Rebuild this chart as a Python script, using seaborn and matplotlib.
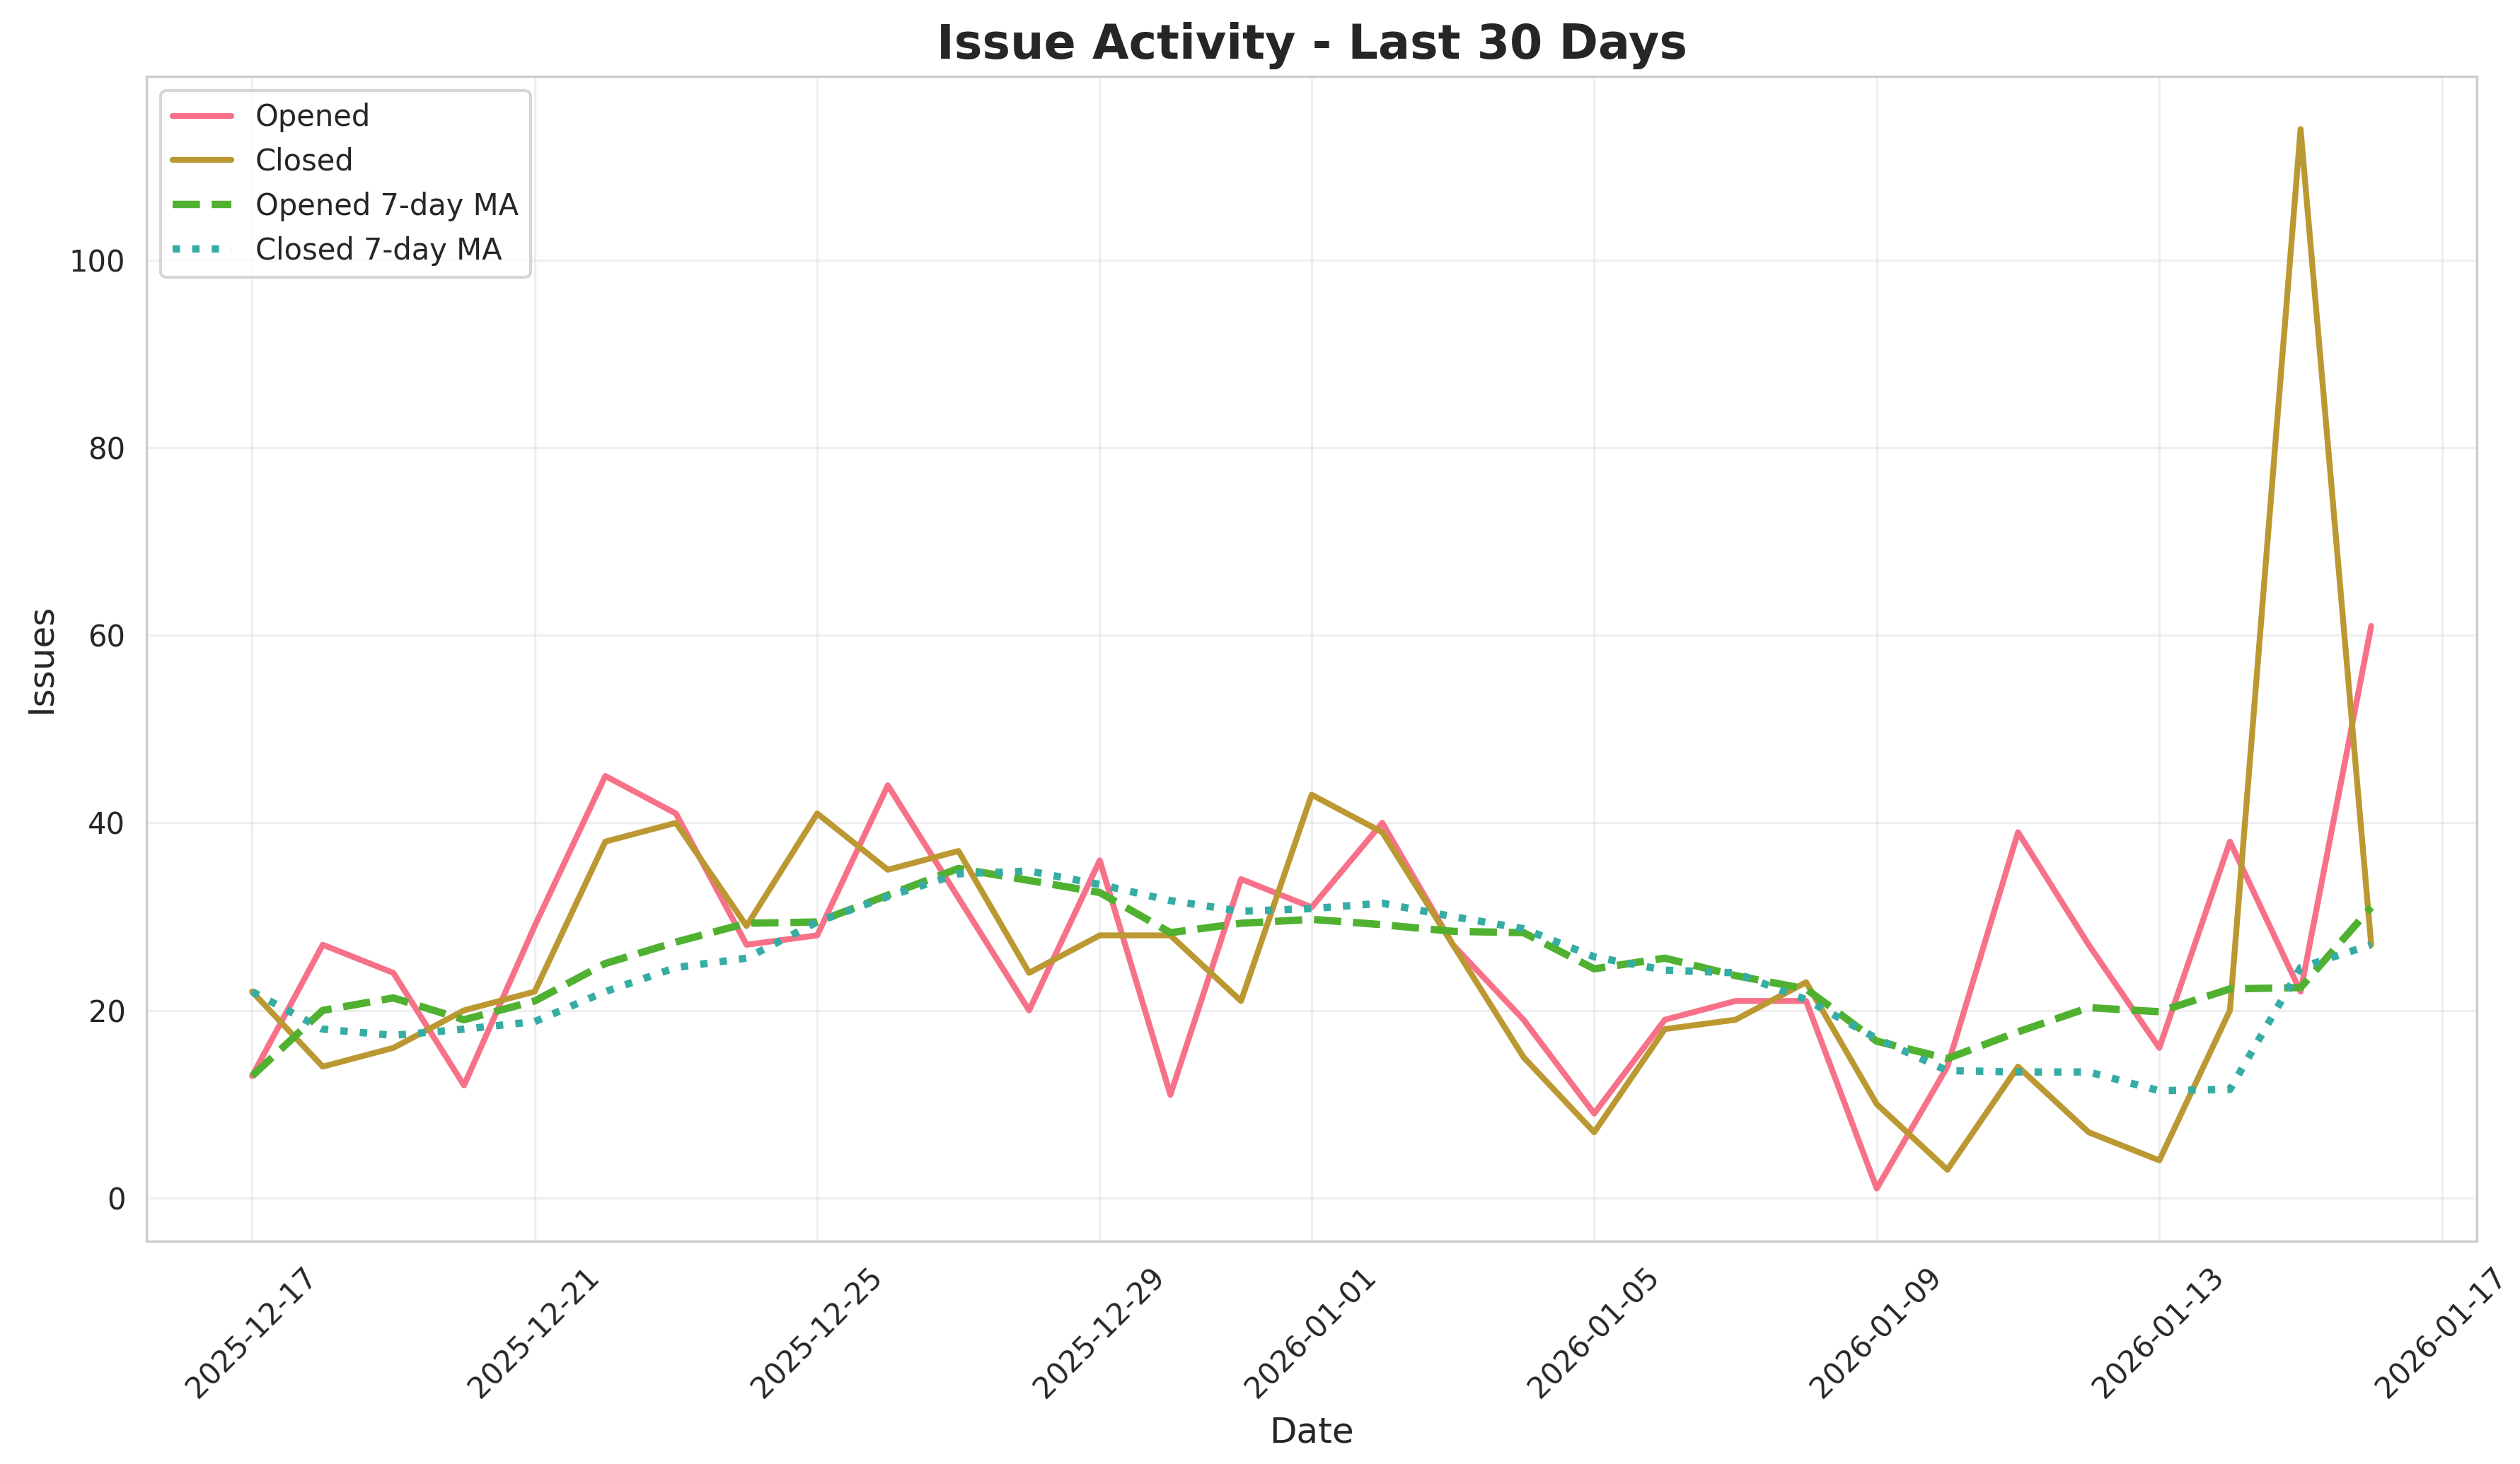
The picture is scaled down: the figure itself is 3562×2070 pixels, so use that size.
import pandas as pd
import seaborn as sns
import matplotlib
matplotlib.use("Agg")
import matplotlib.pyplot as plt

# Daily issue counts (2025-12-17 .. 2026-01-16)
start_date = "2025-12-17"
n_days = 31

opened = [13, 27, 24, 12, 29, 45, 41, 27, 28, 44, 32, 20, 36, 11, 34, 31,
          40, 27, 19, 9, 19, 21, 21, 1, 14, 39, 27, 16, 38, 22, 61]
closed = [22, 14, 16, 20, 22, 38, 40, 29, 41, 35, 37, 24, 28, 28, 21, 43,
          39, 27, 15, 7, 18, 19, 23, 10, 3, 14, 7, 4, 20, 114, 27]

# 7-day moving averages as plotted
opened_ma = [13.0, 20.0, 21.33, 19.0, 21.0, 25.0, 27.29, 29.29, 29.43, 32.29,
             35.14, 33.86, 32.57, 28.29, 29.29, 29.71, 29.14, 28.43, 28.29,
             24.43, 25.57, 23.71, 22.29, 16.71, 14.86, 17.71, 20.29, 19.86,
             22.29, 22.43, 31.0]
closed_ma = [22.0, 18.0, 17.33, 18.0, 18.8, 22.0, 24.57, 25.57, 29.43, 32.14,
             34.57, 34.86, 33.43, 31.71, 30.57, 30.86, 31.43, 30.0, 28.71,
             25.71, 24.29, 24.0, 21.14, 17.0, 13.57, 13.43, 13.43, 11.43,
             11.57, 24.57, 27.0]

df = pd.DataFrame({
    "date": pd.date_range(start_date, periods=n_days, freq="D"),
    "opened": opened,
    "closed": closed,
    "opened_ma": opened_ma,
    "closed_ma": closed_ma,
})

sns.set_style("whitegrid")
sns.set_palette("husl")
colors = sns.color_palette("husl")

fig, ax = plt.subplots(figsize=(3562 / 300, 2070 / 300))

sns.lineplot(data=df, x="date", y="opened", ax=ax, label="Opened",
             color=colors[0], linewidth=2)
sns.lineplot(data=df, x="date", y="closed", ax=ax, label="Closed",
             color=colors[1], linewidth=2)
sns.lineplot(data=df, x="date", y="opened_ma", ax=ax, label="Opened 7-day MA",
             color=colors[2], linewidth=2.5, linestyle="--")
sns.lineplot(data=df, x="date", y="closed_ma", ax=ax, label="Closed 7-day MA",
             color=colors[3], linewidth=2.5, linestyle=":")

ax.set_title("Issue Activity - Last 30 Days", fontsize=16, fontweight="bold")
ax.set_xlabel("Date", fontsize=12)
ax.set_ylabel("Issues", fontsize=12)
ax.grid(True, alpha=0.3)
ax.legend(loc="upper left")
plt.xticks(rotation=45)

plt.subplots_adjust(left=0.058, right=0.983, top=0.948, bottom=0.152)
plt.savefig("out.png", dpi=300)
